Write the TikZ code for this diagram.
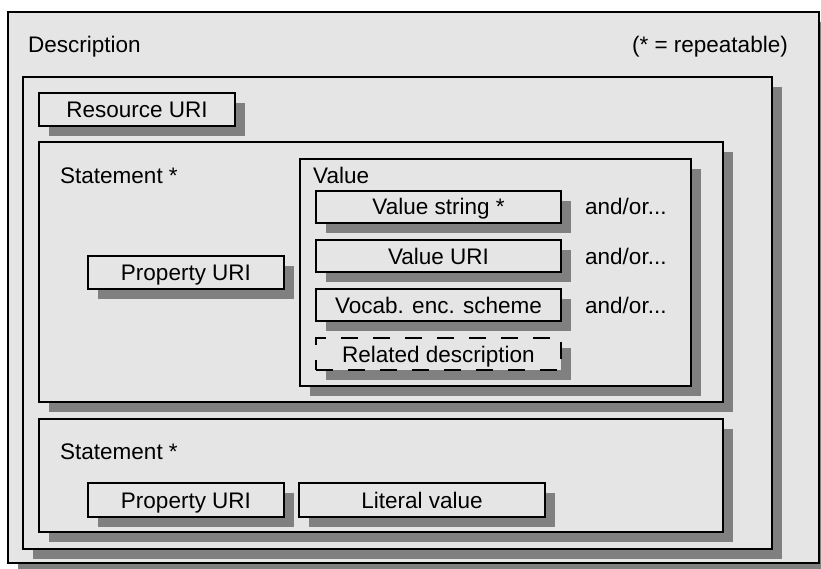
\documentclass[tikz,border=0pt]{standalone}
\usepackage{fontspec}
\setmainfont{Liberation Sans}
\usetikzlibrary{shadows}
\definecolor{boxfill}{gray}{0.9}
\definecolor{shadowgray}{gray}{0.5}
\begin{document}
\begin{tikzpicture}[x=1pt,y=-1pt,
  every node/.style={font=\fontsize{22.5}{26}\selectfont},
  box/.style={draw=black, line width=1.4pt, fill=boxfill, inner sep=0pt,
    text height=16pt, text depth=0pt,
    general shadow={fill=shadowgray, shadow xshift=10pt, shadow yshift=-10pt}},
  dashedbox/.style={box, dash pattern=on 17pt off 15pt},
  lbl/.style={anchor=base west, inner sep=0pt}]
\useasboundingbox (0,0) rectangle (821,569);
\fill[white] (0,0) rectangle (821,569);
% containers
\node[box, minimum width=811pt, minimum height=551pt] (outer) at (413.5,287.5) {};
\node[box, minimum width=749pt, minimum height=472pt] (desc) at (397.5,313) {};
\node[box, minimum width=196pt, minimum height=33pt] (res) at (137,109.5) {Resource URI};
\node[box, minimum width=684pt, minimum height=260pt] (st1) at (381,272) {};
\node[box, minimum width=391pt, minimum height=227pt] (val) at (495.5,272.5) {};
\node[box, minimum width=245pt, minimum height=32pt] (vs) at (438.5,207) {Value string *};
\node[box, minimum width=245pt, minimum height=32pt] (vu) at (438.5,256) {Value URI};
\node[box, minimum width=245pt, minimum height=32pt] (ves) at (438.5,305) {Vocab. enc. scheme};
\node[dashedbox, minimum width=245pt, minimum height=32pt] (rd) at (438.5,354) {Related description};
\node[box, minimum width=196pt, minimum height=33pt] (p1) at (186,272.5) {Property URI};
\node[box, minimum width=684pt, minimum height=113pt] (st2) at (381,475.5) {};
\node[box, minimum width=196pt, minimum height=34pt] (p2) at (186,500) {Property URI};
\node[box, minimum width=246pt, minimum height=34pt] (lit) at (422,500) {Literal value};
% labels
\node[lbl] (tdesc) at (28,53) {Description};
\node[anchor=base east, inner sep=0pt] (trep) at (788,53) {(* = repeatable)};
\node[lbl] (tst1) at (60,184) {Statement *};
\node[lbl] (tval) at (313,184) {Value};
\node[lbl] (ao1) at (585,215) {and/or...};
\node[lbl] (ao2) at (585,264) {and/or...};
\node[lbl] (ao3) at (585,313) {and/or...};
\node[lbl] (tst2) at (60,459) {Statement *};
\end{tikzpicture}
\end{document}
